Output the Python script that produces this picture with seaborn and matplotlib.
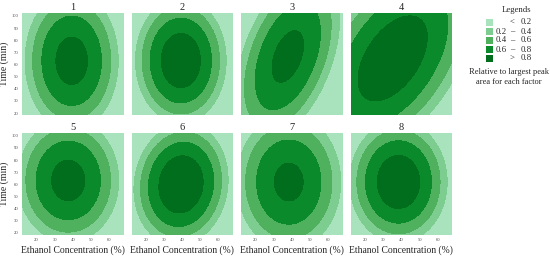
import numpy as np
import seaborn as sns
import matplotlib.pyplot as plt
from matplotlib.patches import Rectangle

# Response surfaces (one per factor)
factor_ids = [1, 2, 3, 4, 5, 6, 7, 8]
peak_height = [0.878, 0.938, 0.861, 0.93, 0.872, 0.97, 0.85, 0.941]
center_ethanol = [39.4, 39.2, 37.8, 35.2, 37.5, 39.3, 38.3, 38.4]
center_time = [63.0, 63.2, 66.6, 65.0, 63.3, 60.0, 61.9, 62.0]
spread_ethanol = [31.2, 29.1, 35.2, 53.0, 34.0, 29.6, 35.5, 31.2]
spread_time = [69.8, 60.0, 85.8, 97.0, 62.0, 57.0, 69.3, 58.0]
coupling = [0.0, 0.0, 0.45, 0.5, 0.0, 0.08, 0.0, 0.0]

ethanol_range = [12, 68]
time_range = [18.4, 102.4]
ethanol_ticks = [20, 30, 40, 50, 60]
time_ticks = [20, 30, 40, 50, 60, 70, 80, 90, 100]

levels = [-10, 0.2, 0.4, 0.6, 0.8, 10]
level_low = ['', '0.2', '0.4', '0.6', '']
level_sep = ['<', '\u2013', '\u2013', '\u2013', '>']
level_high = ['0.2', '0.4', '0.6', '0.8', '0.8']
colors = ['#a9e3bd', '#7ccd8f', '#4fb05e', '#0b8a2b', '#006e1c']

sns.set_theme(style='white')
plt.rcParams['font.family'] = ['Liberation Serif', 'DejaVu Serif']

fig, axes = plt.subplots(2, 4, figsize=(5.5, 2.59), dpi=100, sharex=True, sharey=True)
fig.subplots_adjust(left=0.04, right=0.822, top=0.95, bottom=0.093, wspace=0.079, hspace=0.176)

xs = np.linspace(ethanol_range[0], ethanol_range[1], 300)
ys = np.linspace(time_range[0], time_range[1], 300)
X, Y = np.meshgrid(xs, ys)

for i, ax in enumerate(axes.flat):
    u = (X - center_ethanol[i]) / spread_ethanol[i]
    v = (Y - center_time[i]) / spread_time[i]
    r = coupling[i]
    q = (u ** 2 + v ** 2 - 2 * r * u * v) / (1 - r ** 2)
    Z = peak_height[i] - q
    ax.contourf(X, Y, Z, levels=levels, colors=colors)
    ax.set_xlim(ethanol_range)
    ax.set_ylim(time_range)
    ax.set_title(str(factor_ids[i]), fontsize=7.5, pad=2)
    for s in ax.spines.values():
        s.set_visible(False)
    ax.set_xticks(ethanol_ticks)
    ax.set_yticks(time_ticks)
    ax.tick_params(length=0, labelsize=3.3, pad=2.5, colors='#444444')

for ax in axes[:, 0]:
    ax.set_ylabel('Time (min)', fontsize=7, labelpad=2)
for ax in axes[1, :]:
    ax.set_xlabel('Ethanol Concentration (%)', fontsize=6.9, labelpad=2)

# legend drawn by hand to keep the three text columns
W, H = 550, 259
fig.text(517 / W, 1 - 10 / H, 'Legends', ha='center', va='center', fontsize=6.3)
for k in range(5):
    yc = 1 - (22.5 + 9 * k) / H
    fig.patches.append(Rectangle((486 / W, yc - 3.5 / H), 7 / W, 7 / H,
                                 transform=fig.transFigure, facecolor=colors[k],
                                 edgecolor='none'))
    fig.text(501 / W, yc, level_low[k], ha='center', va='center', fontsize=6.3)
    fig.text(512.5 / W, yc, level_sep[k], ha='center', va='center', fontsize=6.3)
    fig.text(526.5 / W, yc, level_high[k], ha='center', va='center', fontsize=6.3)
fig.text(509 / W, 1 - 72 / H, 'Relative to largest peak', ha='center', va='center', fontsize=6.0)
fig.text(509 / W, 1 - 82 / H, 'area for each factor', ha='center', va='center', fontsize=6.0)

fig.savefig('out.png', dpi=100)
